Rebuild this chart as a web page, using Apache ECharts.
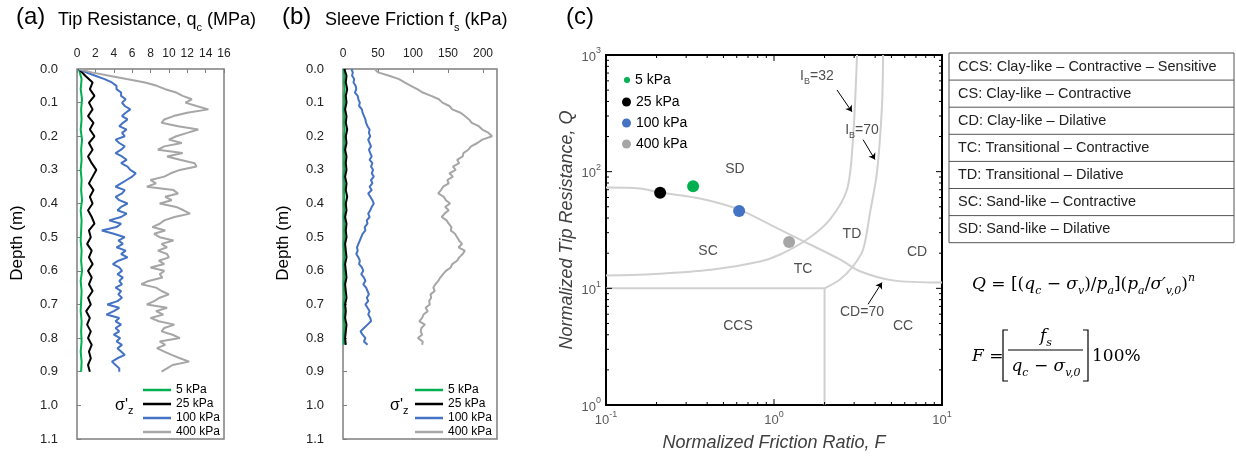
<!DOCTYPE html>
<html>
<head>
<meta charset="utf-8">
<script src="https://cdn.jsdelivr.net/npm/echarts@6/dist/echarts.min.js"></script>
<style>
  html, body { margin: 0; padding: 0; background: #fff; }
  #chart { width: 1236px; height: 457px; }
</style>
</head>
<body>
<div id="chart"></div>
<script>
// depth sample positions (m)
const depth = [
  0.00, 0.01, 0.02, 0.03, 0.04, 0.05, 0.06, 0.07, 0.08, 0.09,
  0.10, 0.11, 0.12, 0.13, 0.14, 0.15, 0.16, 0.17, 0.18, 0.19,
  0.20, 0.21, 0.22, 0.23, 0.24, 0.25, 0.26, 0.27, 0.28, 0.29,
  0.30, 0.31, 0.32, 0.33, 0.34, 0.35, 0.36, 0.37, 0.38, 0.39,
  0.40, 0.41, 0.42, 0.43, 0.44, 0.45, 0.46, 0.47, 0.48, 0.49,
  0.50, 0.51, 0.52, 0.53, 0.54, 0.55, 0.56, 0.57, 0.58, 0.59,
  0.60, 0.61, 0.62, 0.63, 0.64, 0.65, 0.66, 0.67, 0.68, 0.69,
  0.70, 0.71, 0.72, 0.73, 0.74, 0.75, 0.76, 0.77, 0.78, 0.79,
  0.80, 0.81, 0.82, 0.83, 0.84, 0.85, 0.86, 0.87, 0.88, 0.89,
  0.90
];
const depth2 = [
  0.00, 0.02, 0.04, 0.06, 0.08, 0.10, 0.12, 0.14, 0.16, 0.18,
  0.20, 0.22, 0.24, 0.26, 0.28, 0.30, 0.32, 0.34, 0.36, 0.38,
  0.40, 0.42, 0.44, 0.46, 0.48, 0.50, 0.52, 0.54, 0.56, 0.58,
  0.60, 0.62, 0.64, 0.66, 0.68, 0.70, 0.72, 0.74, 0.76, 0.78,
  0.80, 0.82, 0.84, 0.86, 0.88, 0.90
];
const depth3 = [
  0.00, 0.03, 0.06, 0.09, 0.12, 0.15, 0.18, 0.21, 0.24, 0.27,
  0.30, 0.33, 0.36, 0.39, 0.42, 0.45, 0.48, 0.51, 0.54, 0.57,
  0.60, 0.63, 0.66, 0.69, 0.72, 0.75, 0.78, 0.81, 0.84, 0.87,
  0.90
];
const depthB = depth.slice(0, 83);
const depthB2 = depth2.slice(0, 42);

// (a) tip resistance qc (MPa)
const qc400 = [
  0.2, 1.6, 3.5, 5.4, 7.4, 8.7, 9.6, 10.8, 11.5, 12.5,
  11.8, 13.0, 14.3, 12.0, 10.5, 9.5, 9.2, 11.0, 13.2, 12.0,
  10.8, 10.0, 11.4, 9.5, 8.8, 11.5, 9.8, 11.2, 12.8, 13.0,
  11.2, 10.2, 9.5, 8.0, 8.6, 7.6, 10.5, 11.0, 9.6, 10.3,
  9.0, 10.8, 11.6, 12.3, 10.6, 9.5, 9.0, 8.2, 9.6, 8.4,
  9.0, 10.5, 9.2, 9.8, 8.8, 9.8, 10.0, 8.9, 9.5, 8.0,
  9.5, 9.0, 9.3, 7.8, 7.0, 8.6, 9.2, 10.0, 9.0, 8.4,
  7.6, 9.8, 8.6, 9.4, 8.0, 8.9, 10.6, 9.5, 9.2, 10.4,
  11.2, 9.0, 9.6, 8.7, 9.5, 10.3, 11.2, 12.2, 10.4, 9.8,
  9.2
];
const qc100 = [
  0.2, 1.0, 2.0, 3.0, 3.8, 4.3, 4.3, 4.8, 4.8, 5.3,
  4.9, 5.2, 5.8, 5.3, 4.9, 5.5, 5.0, 4.6, 5.4, 4.9,
  5.2, 4.2, 4.6, 5.2, 4.8, 4.2, 4.9, 5.4, 4.8, 5.5,
  5.8, 6.4, 6.0, 5.4, 4.8, 4.2, 5.2, 4.9, 4.2, 4.6,
  5.5, 4.8, 4.4, 5.4, 4.8, 3.5, 4.8, 4.3, 2.7, 4.0,
  5.2, 4.5, 5.0, 4.3, 5.3, 4.8, 5.5, 4.5, 3.9, 4.6,
  4.9, 4.4, 5.0, 4.6, 4.9, 4.2, 4.8, 4.5, 4.9, 4.4,
  3.3, 4.6, 4.0, 3.2, 4.6, 4.2, 4.8, 4.2, 4.6, 4.0,
  4.7, 4.3, 4.9, 4.4, 4.8, 5.2, 4.4, 3.8, 4.2, 4.6,
  4.6
];
const qc25 = [
  0.2, 0.9, 1.7, 1.4, 1.9, 1.3, 1.7, 1.2, 1.8, 1.4,
  1.9, 1.3, 1.7, 1.2, 1.6, 2.1, 1.7, 1.3, 1.8, 1.4,
  1.7, 1.2, 1.6, 1.9, 1.3, 1.5, 1.1, 1.6, 1.3, 1.7,
  1.2, 1.6, 1.3, 1.7, 1.2, 1.5, 1.0, 1.4, 1.1, 1.5,
  1.2, 1.6, 1.3, 1.5, 1.2, 1.4
];
const qc5 = [
  0.2, 0.5, 0.4, 0.55, 0.45, 0.5, 0.4, 0.55, 0.45, 0.5,
  0.4, 0.5, 0.45, 0.55, 0.4, 0.5, 0.45, 0.4, 0.5, 0.45,
  0.55, 0.4, 0.5, 0.45, 0.4, 0.5, 0.45, 0.5, 0.4, 0.5,
  0.45
];

// (b) sleeve friction fs (kPa)
const fs400 = [
  45, 50, 66, 80, 88, 97, 106, 114, 126, 137,
  142, 152, 156, 168, 174, 180, 184, 194, 199, 208,
  213, 199, 192, 183, 179, 172, 171, 163, 166, 157,
  161, 152, 157, 149, 151, 143, 140, 136, 144, 147,
  153, 146, 151, 145, 141, 148, 151, 155, 154, 160,
  163, 166, 170, 165, 174, 171, 166, 163, 156, 154,
  147, 143, 139, 136, 132, 129, 131, 125, 126, 123,
  124, 118, 121, 115, 113, 109, 117, 112, 111, 113,
  107, 114, 113
];
const fs100 = [
  12, 14, 13, 16, 15, 18, 19, 17, 21, 22,
  24, 23, 27, 28, 30, 32, 33, 35, 38, 37,
  39, 36, 38, 40, 37, 39, 41, 38, 42, 40,
  43, 41, 44, 40, 42, 38, 41, 36, 39, 42,
  44, 41, 39, 36, 38, 34, 35, 31, 32, 28,
  26, 24, 22, 20, 21, 19, 22, 24, 23, 27,
  29, 26, 30, 32, 29, 33, 35, 37, 34, 36,
  32, 35, 38, 36, 39, 40, 35, 30, 25, 28,
  32, 30, 35
];
const fs25 = [
  2, 5, 4, 6, 4, 5, 3, 5, 4, 6,
  4, 5, 3, 5, 4, 5, 3, 5, 4, 6,
  4, 5, 3, 5, 4, 5, 3, 4, 5, 3,
  4, 5, 3, 4, 5, 3, 4, 3, 5, 4,
  3, 4
];
const fs5 = [
  1, 2, 1.5, 2.5, 1.5, 2, 1, 2, 1.5, 2.5,
  1.5, 2, 1, 2, 1.5, 2, 1, 2, 1.5, 2,
  1.5, 2, 1, 2, 1.5, 2, 1, 1.5, 2, 1,
  1.5, 2, 1, 1.5, 2, 1, 1.5, 1, 2, 1.5,
  1, 1.5
];

const stressLabels = ['5 kPa', '25 kPa', '100 kPa', '400 kPa'];
const stressColors = ['#00b050', '#000000', '#4472c4', '#a6a6a6'];

// (c) normalized points
const pointF = [0.33, 0.21, 0.62, 1.23];
const pointQ = [75, 66, 46, 25];

// (c) boundaries
const ib32F = [0.1, 0.183, 0.434, 0.826, 1.087, 1.57, 2.15, 2.72, 2.95, 3.12];
const ib32Q = [12.9, 13.2, 14.5, 17.0, 19.5, 26.2, 38.9, 70.2, 188, 1000];
const ib70F = [2.0, 2.47, 2.95, 3.39, 3.73, 4.10, 4.39, 4.46];
const ib70Q = [10, 11.9, 15.4, 21.5, 44.7, 98, 360, 1000];
const cd70F = [0.1, 0.159, 0.212, 0.363, 0.62, 0.946, 1.43, 2.47, 3.25, 5.1, 10];
const cd70Q = [73, 71.6, 66.2, 58.8, 47.3, 35.2, 26.2, 17.7, 14.0, 11.7, 11.2];
const ccsTopF = [0.1, 2];
const ccsTopQ = [10, 10];
const ccsSideF = [2, 2];
const ccsSideQ = [1, 10];

const zoneNames = ['SD', 'SC', 'TD', 'CD', 'TC', 'CCS', 'CC', 'CD=70', '{t|I}{s|B}{t|=32}', '{t|I}{s|B}{t|=70}'];
const zoneF = [0.586, 0.405, 2.91, 7.1, 1.49, 0.61, 5.86, 3.34, 1.80, 3.34];
const zoneQ = [106, 20.7, 29, 20.3, 14.5, 4.73, 4.73, 6.24, 635, 220];

const arrowFrom = [[2.37, 502], [3.39, 188], [3.63, 7.3]];
const arrowTo = [[2.91, 326], [3.99, 127], [4.39, 11.2]];

const minorF = [0.2, 0.3, 0.4, 0.5, 0.6, 0.7, 0.8, 0.9, 2, 3, 4, 5, 6, 7, 8, 9];
const majorF = [1];
const minorQ = [2, 3, 4, 5, 6, 7, 8, 9, 20, 30, 40, 50, 60, 70, 80, 90, 200, 300, 400, 500, 600, 700, 800, 900];
const majorQ = [10, 100];

const classRows = [
  'CCS: Clay-like \u2013 Contractive \u2013 Sensitive',
  'CS: Clay-like \u2013 Contractive',
  'CD: Clay-like \u2013 Dilative',
  'TC: Transitional \u2013 Contractive',
  'TD: Transitional \u2013 Dilative',
  'SC: Sand-like \u2013 Contractive',
  'SD: Sand-like \u2013 Dilative'
];

const FONT = 'Liberation Sans, Arial, sans-serif';
const SERIF = 'DejaVu Serif, Liberation Serif, serif';

const pairs = (xs, ys) => xs.map((v, i) => [v, ys[i]]);

function profile(name, color, xs, ds, axis) {
  return {
    name, type: 'line', xAxisIndex: axis, yAxisIndex: axis,
    data: pairs(xs, ds), symbol: 'none', silent: true,
    lineStyle: { color, width: 2 }, itemStyle: { color }
  };
}

function boundary(xs, ys, smooth) {
  return {
    type: 'line', xAxisIndex: 2, yAxisIndex: 2, data: pairs(xs, ys),
    symbol: 'none', smooth, silent: true, z: 1,
    lineStyle: { color: '#d0d0d0', width: 2 }
  };
}

// tick marks for the log-log panel, placed through the axis scales
function logTicks(vals, isX, len) {
  return {
    type: 'custom', xAxisIndex: 2, yAxisIndex: 2, silent: true, z: 6,
    data: vals.map(v => (isX ? [v, 1] : [0.1, v])),
    renderItem: (params, api) => {
      const v = api.value(isX ? 0 : 1);
      const s = { stroke: '#000', lineWidth: 1 };
      if (isX) {
        const a = api.coord([v, 1]), b = api.coord([v, 1000]);
        return { type: 'group', children: [
          { type: 'line', shape: { x1: a[0], y1: a[1], x2: a[0], y2: a[1] - len }, style: s },
          { type: 'line', shape: { x1: b[0], y1: b[1], x2: b[0], y2: b[1] + len }, style: s }
        ] };
      }
      const a = api.coord([0.1, v]), b = api.coord([10, v]);
      return { type: 'group', children: [
        { type: 'line', shape: { x1: a[0], y1: a[1], x2: a[0] + len, y2: a[1] }, style: s },
        { type: 'line', shape: { x1: b[0], y1: b[1], x2: b[0] - len, y2: b[1] }, style: s }
      ] };
    }
  };
}

const depthAxis = (grid) => ({
  gridIndex: grid, type: 'value', inverse: true, min: 0, max: 1.1, interval: 0.1,
  axisLine: { show: false },
  axisTick: { inside: true, length: 4, lineStyle: { color: '#7f7f7f' } },
  axisLabel: { fontSize: 13, color: '#222', margin: 19, formatter: v => v.toFixed(1) },
  splitLine: { show: false },
  name: 'Depth (m)', nameLocation: 'middle', nameGap: 51,
  nameTextStyle: { fontSize: 17, color: '#000', fontFamily: FONT, padding: [0, 0, 0, 22] }
});

const expLabel = v => '{b|10}{s|' + Math.round(Math.log10(v)) + '}';
const expRich = {
  b: { fontSize: 13, color: '#595959', lineHeight: 17, verticalAlign: 'bottom', fontFamily: FONT },
  s: { fontSize: 9, color: '#595959', lineHeight: 9, verticalAlign: 'top', fontFamily: FONT }
};

const series = [];
const qcSets = [qc5, qc25, qc100, qc400];
const qcDepths = [depth3, depth2, depth, depth];
const fsSets = [fs5, fs25, fs100, fs400];
const fsDepths = [depthB2, depthB2, depthB, depthB];
stressLabels.forEach((n, i) => series.push(profile(n, stressColors[i], qcSets[i], qcDepths[i], 0)));
stressLabels.forEach((n, i) => series.push(profile(n, stressColors[i], fsSets[i], fsDepths[i], 1)));

series.push(boundary(ib32F, ib32Q, 0.3));
series.push(boundary(ib70F, ib70Q, 0.3));
series.push(boundary(cd70F, cd70Q, 0.3));
series.push(boundary(ccsTopF, ccsTopQ, false));
series.push(boundary(ccsSideF, ccsSideQ, false));

stressLabels.forEach((n, i) => series.push({
  name: n, type: 'scatter', xAxisIndex: 2, yAxisIndex: 2, z: 4,
  data: [[pointF[i], pointQ[i]]], symbolSize: 12,
  itemStyle: { color: stressColors[i], opacity: 1 }
}));

series.push({
  type: 'scatter', xAxisIndex: 2, yAxisIndex: 2, silent: true, z: 5,
  symbolSize: 1, itemStyle: { color: 'rgba(0,0,0,0)' },
  data: zoneNames.map((n, i) => ({ name: n, value: [zoneF[i], zoneQ[i]] })),
  label: {
    show: true, position: 'inside', formatter: p => p.name,
    fontSize: 14, color: '#222', fontFamily: FONT,
    rich: {
      t: { fontSize: 14, color: '#222', lineHeight: 17, verticalAlign: 'top', fontFamily: FONT },
      s: { fontSize: 9, color: '#222', lineHeight: 12, verticalAlign: 'bottom', fontFamily: FONT }
    }
  }
});

series.push({
  type: 'lines', coordinateSystem: 'cartesian2d', xAxisIndex: 2, yAxisIndex: 2,
  silent: true, z: 5, symbol: ['none', 'arrow'], symbolSize: 6,
  lineStyle: { color: '#000', width: 1, opacity: 1 },
  data: arrowFrom.map((a, i) => ({ coords: [a, arrowTo[i]] }))
});

series.push(logTicks(minorF, true, 3));
series.push(logTicks(majorF, true, 6));
series.push(logTicks(minorQ, false, 3));
series.push(logTicks(majorQ, false, 6));

// class table
const tableX = 949, tableY = 53, tableW = 285, rowH = 27.1;
const tableEls = [{
  type: 'rect', shape: { x: tableX, y: tableY, width: tableW, height: rowH * classRows.length },
  style: { fill: '#fff', stroke: '#555', lineWidth: 1 }
}];
classRows.forEach((t, i) => {
  if (i > 0) tableEls.push({
    type: 'line', shape: { x1: tableX, y1: tableY + rowH * i, x2: tableX + tableW, y2: tableY + rowH * i },
    style: { stroke: '#555', lineWidth: 1 }
  });
  tableEls.push({
    type: 'text', x: tableX + 9, y: tableY + rowH * i + rowH / 2,
    style: { text: t, font: '14.5px ' + FONT, fill: '#222', verticalAlign: 'middle' }
  });
});

const eqRich = {
  i: { fontFamily: SERIF, fontStyle: 'italic', fontSize: 17, lineHeight: 24, fill: '#000' },
  r: { fontFamily: SERIF, fontSize: 17, lineHeight: 24, fill: '#000' },
  b: { fontFamily: SERIF, fontStyle: 'italic', fontSize: 11, lineHeight: 12, verticalAlign: 'bottom', fill: '#000' },
  p: { fontFamily: SERIF, fontStyle: 'italic', fontSize: 11, lineHeight: 12, verticalAlign: 'top', fill: '#000' }
};
const lineStyleBlack = { stroke: '#000', lineWidth: 1.2, fill: null };
const subRich = {
  t: { fontSize: 18, fontFamily: FONT, lineHeight: 22, verticalAlign: 'top', fill: '#000' },
  s: { fontSize: 11, fontFamily: FONT, lineHeight: 13, verticalAlign: 'bottom', fill: '#000' }
};
const sigmaRich = {
  t: { fontSize: 16, fontFamily: FONT, lineHeight: 19, verticalAlign: 'top', fill: '#000' },
  s: { fontSize: 11, fontFamily: FONT, lineHeight: 12, verticalAlign: 'bottom', fill: '#000' }
};

const graphics = [
  { type: 'text', x: 16, y: 17, style: { text: '(a)', font: '24px ' + FONT, fill: '#000', verticalAlign: 'middle' } },
  { type: 'text', x: 58, y: 22, style: { text: '{t|Tip Resistance, q}{s|c}{t| (MPa)}', verticalAlign: 'middle', rich: subRich } },
  { type: 'text', x: 282, y: 17, style: { text: '(b)', font: '24px ' + FONT, fill: '#000', verticalAlign: 'middle' } },
  { type: 'text', x: 325, y: 22, style: { text: '{t|Sleeve Friction f}{s|s}{t| (kPa)}', verticalAlign: 'middle', rich: subRich } },
  { type: 'text', x: 566, y: 17, style: { text: '(c)', font: '24px ' + FONT, fill: '#000', verticalAlign: 'middle' } },
  { type: 'text', x: 115, y: 407, style: { text: "{t|\u03c3'}{s|z}", verticalAlign: 'middle', rich: sigmaRich } },
  { type: 'text', x: 390, y: 407, style: { text: "{t|\u03c3'}{s|z}", verticalAlign: 'middle', rich: sigmaRich } },
  { type: 'group', children: tableEls },
  { type: 'text', x: 972, y: 285, style: {
    text: '{i|Q}{r| = [(}{i|q}{b|c}{r| \u2212 }{i|\u03c3}{b|v}{r|)/}{i|p}{b|a}{r|](}{i|p}{b|a}{r|/}{i|\u03c3\u2032}{b|v,0}{r|)}{p|n}',
    verticalAlign: 'middle', rich: eqRich } },
  { type: 'text', x: 972, y: 357, style: { text: '{i|F}{r| =}', verticalAlign: 'middle', rich: eqRich } },
  { type: 'polyline', shape: { points: [[1008, 330], [1003, 330], [1003, 381], [1008, 381]] }, style: lineStyleBlack },
  { type: 'polyline', shape: { points: [[1083, 330], [1088, 330], [1088, 381], [1083, 381]] }, style: lineStyleBlack },
  { type: 'line', shape: { x1: 1008, y1: 350, x2: 1083, y2: 350 }, style: { stroke: '#000', lineWidth: 1 } },
  { type: 'text', x: 1046, y: 337, style: { text: '{i|f}{b|s}', align: 'center', verticalAlign: 'middle', rich: eqRich } },
  { type: 'text', x: 1046, y: 367, style: { text: '{i|q}{b|c}{r| \u2212 }{i|\u03c3}{b|v,0}', align: 'center', verticalAlign: 'middle', rich: eqRich } },
  { type: 'text', x: 1092, y: 357, style: { text: '{r|100%}', verticalAlign: 'middle', rich: eqRich } }
];

const profileLegend = (left) => ({
  left, top: 378, orient: 'vertical', itemWidth: 28, itemHeight: 2.5, itemGap: 0,
  selectedMode: false, data: stressLabels.map(n => ({ name: n, icon: 'rect' })),
  textStyle: { fontSize: 12, color: '#000', lineHeight: 14 }
});

const option = {
  animation: false,
  textStyle: { fontFamily: FONT },
  grid: [
    { left: 77, top: 69, width: 147, height: 370, show: true, borderColor: '#7f7f7f', borderWidth: 1.5 },
    { left: 343, top: 69, width: 154, height: 370, show: true, borderColor: '#7f7f7f', borderWidth: 1.5 },
    { left: 606, top: 55, width: 336, height: 351, show: true, borderColor: '#000', borderWidth: 2 }
  ],
  xAxis: [
    {
      gridIndex: 0, type: 'value', position: 'top', min: 0, max: 16, interval: 2,
      axisLine: { show: false },
      axisTick: { inside: true, length: 4, lineStyle: { color: '#7f7f7f' } },
      axisLabel: { fontSize: 12, color: '#222', margin: 9 },
      splitLine: { show: false }
    },
    {
      gridIndex: 1, type: 'value', position: 'top', min: 0, max: 220, interval: 50,
      axisLine: { show: false },
      axisTick: { inside: true, length: 4, lineStyle: { color: '#7f7f7f' } },
      axisLabel: { fontSize: 12, color: '#222', margin: 9, showMaxLabel: false },
      splitLine: { show: false }
    },
    {
      gridIndex: 2, type: 'log', logBase: 10, min: 0.1, max: 10,
      axisLine: { show: false }, axisTick: { show: false }, splitLine: { show: false },
      axisLabel: { formatter: expLabel, rich: expRich, margin: 5 },
      name: 'Normalized Friction Ratio, F', nameLocation: 'middle', nameGap: 29,
      nameTextStyle: { fontSize: 18, fontStyle: 'italic', color: '#404040', fontFamily: FONT }
    }
  ],
  yAxis: [
    depthAxis(0),
    depthAxis(1),
    {
      gridIndex: 2, type: 'log', logBase: 10, min: 1, max: 1000,
      axisLine: { show: false }, axisTick: { show: false }, splitLine: { show: false },
      axisLabel: { formatter: expLabel, rich: expRich, margin: 5 },
      name: 'Normalized Tip Resistance, Q', nameLocation: 'middle', nameGap: 30,
      nameTextStyle: { fontSize: 18, fontStyle: 'italic', color: '#404040', fontFamily: FONT }
    }
  ],
  legend: [
    profileLegend(138),
    profileLegend(410),
    {
      left: 619, top: 68, orient: 'vertical', itemWidth: 6, itemHeight: 6,
      selectedMode: false, data: [{ name: stressLabels[0], icon: 'circle' }],
      textStyle: { fontSize: 14, color: '#000', lineHeight: 14 }
    },
    {
      left: 617, top: 90, orient: 'vertical', itemWidth: 9, itemHeight: 9, itemGap: 7,
      selectedMode: false,
      data: stressLabels.slice(1).map(n => ({ name: n, icon: 'circle' })),
      textStyle: { fontSize: 14, color: '#000', lineHeight: 14 }
    }
  ],
  graphic: graphics,
  series
};

const chart = echarts.init(document.getElementById('chart'));
chart.setOption(option);
</script>
</body>
</html>
